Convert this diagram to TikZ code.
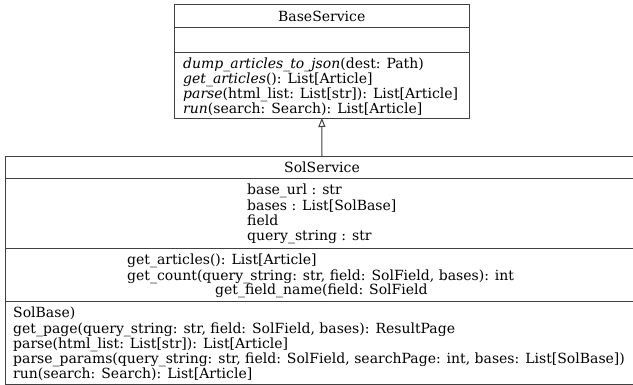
\documentclass[tikz,border=0pt]{standalone}
\usepackage{fontspec}
\setmainfont{DejaVu Serif}
\usetikzlibrary{positioning}
\usetikzlibrary{arrows.meta}

\begin{document}
\begin{tikzpicture}[x=1pt,y=-1pt,font=\fontsize{14}{15.2}\selectfont]
		\useasboundingbox (0,0) rectangle (633,385);
		% BaseService
		\node[draw=black!75,line width=0.8pt,rectangle,minimum width = 294.5pt,minimum height = 23pt,inner sep=0pt,outer sep=0pt] at (321.75,16) (bs0) {BaseService};
		\node[below = 0pt of bs0,draw=black!75,line width=0.8pt,rectangle,minimum width = 294.5pt,minimum height = 24.5pt,inner sep=0pt,outer sep=0pt] (bs1) {};
		\node[below = 0pt of bs1,draw=black!75,line width=0.8pt,rectangle,minimum width = 294.5pt,minimum height = 66pt,inner sep=0pt,outer sep=0pt] (bs2) {};
		\node[anchor = north west,inner sep=0pt,align=left] at (183,57.5) (bsm) {\textit{dump\_articles\_to\_json}(dest: Path)\\\textit{get\_articles}(): List[Article]\\\textit{parse}(html\_list: List[str]): List[Article]\\\textit{run}(search: Search): List[Article]};
		% SolService
		\node[draw=black!75,line width=0.8pt,rectangle,minimum width = 634pt,minimum height = 22pt,inner sep=0pt,outer sep=0pt] at (322,167) (ss0) {SolService};
		\node[below = 0pt of ss0,draw=black!75,line width=0.8pt,rectangle,minimum width = 634pt,minimum height = 70pt,inner sep=0pt,outer sep=0pt] (ss1) {};
		\node[below = 0pt of ss1,draw=black!75,line width=0.8pt,rectangle,minimum width = 634pt,minimum height = 53pt,inner sep=0pt,outer sep=0pt] (ss2) {};
		\node[below = 0pt of ss2,draw=black!75,line width=0.8pt,rectangle,minimum width = 634pt,minimum height = 83pt,inner sep=0pt,outer sep=0pt] (ss3) {};
		\node[anchor = north west,inner sep=0pt,align=left] at (247,184) (ssa) {base\_url : str\\bases : List[SolBase]\\field\\query\_string : str};
		\node[anchor = north west,inner sep=0pt,align=left] at (127,254) (ssm) {get\_articles(): List[Article]\\get\_count(query\_string: str, field: SolField, bases): int};
		\node[anchor = north west,inner sep=0pt] at (215,284) (ssf) {get\_field\_name(field: SolField};
		\node[anchor = north west,inner sep=0pt,align=left] at (13,307) (ssp) {SolBase)\\get\_page(query\_string: str, field: SolField, bases): ResultPage\\parse(html\_list: List[str]): List[Article]\\parse\_params(query\_string: str, field: SolField, searchPage: int, bases: List[SolBase])\\run(search: Search): List[Article]};
		% inheritance
		\draw[black!75,line width=1pt,-{Triangle[open,length=9pt,width=7pt]}] (ss0) -- (bs2);
	\end{tikzpicture}
\end{document}
